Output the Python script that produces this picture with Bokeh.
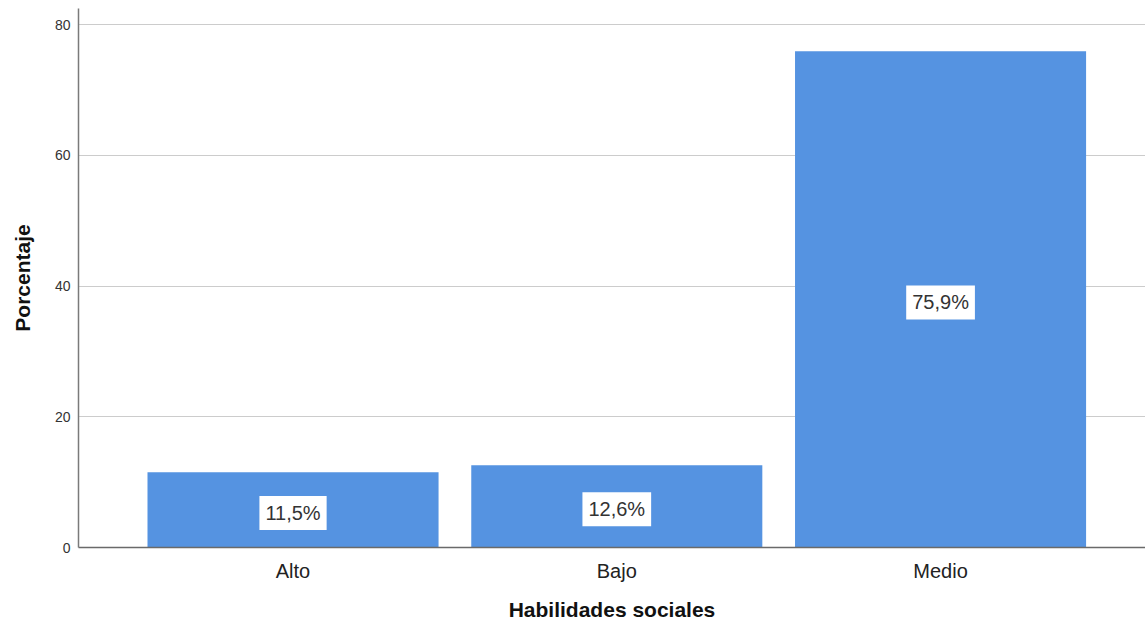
from bokeh.plotting import figure
from bokeh.models import ColumnDataSource, Range1d, FixedTicker
from bokeh.core.properties import value
from bokeh.embed import file_html
from bokeh.resources import INLINE

categories = ["Alto", "Bajo", "Medio"]
percentages = [11.5, 12.6, 75.9]
y_ticks = [0, 20, 40, 60, 80]
x_title = "Habilidades sociales"
y_title = "Porcentaje"

positions = list(range(len(categories)))
labels = [f"{v:.1f}".replace(".", ",") + "%" for v in percentages]
mids = [v / 2 for v in percentages]

src = ColumnDataSource(dict(x=positions, top=percentages, mid=mids, label=labels, cat=categories))

FONT = "Liberation Sans"
BAR = "#5593e1"

p = figure(width=1145, height=623, output_backend="svg", toolbar_location=None,
           x_range=Range1d(-0.6626, 2.633), y_range=Range1d(0, 82.45),
           min_border_left=78, min_border_right=0, min_border_top=8, min_border_bottom=76)
p.outline_line_color = None
p.background_fill_color = "white"
p.border_fill_color = "white"

p.vbar(x="x", top="top", bottom=0, width=0.899, source=src, fill_color=BAR, line_color=None)
p.text(x="x", y="mid", text="label", source=src, text_align="center", text_baseline="middle",
       y_offset=3, text_font=value(FONT), text_font_size="20px", text_color="#333333",
       background_fill_color="white", padding=6)

# grid
p.xgrid.grid_line_color = None
p.ygrid.grid_line_color = "#cccccc"
p.ygrid.grid_line_width = 1
p.yaxis.ticker = FixedTicker(ticks=y_ticks)
p.ygrid.ticker = FixedTicker(ticks=y_ticks)

# x axis
p.xaxis.ticker = FixedTicker(ticks=positions)
p.xaxis.major_label_overrides = {i: c for i, c in zip(positions, categories)}
p.xaxis.axis_label = x_title
p.xaxis.axis_label_text_font = FONT
p.xaxis.axis_label_text_font_style = "bold"
p.xaxis.axis_label_text_font_size = "21px"
p.xaxis.axis_label_text_color = "#111111"
p.xaxis.axis_label_standoff = 13
p.xaxis.major_label_text_font = FONT
p.xaxis.major_label_text_font_size = "20px"
p.xaxis.major_label_text_color = "#222222"
p.xaxis.major_label_standoff = 12
p.xaxis.major_tick_line_color = None
p.xaxis.minor_tick_line_color = None
p.xaxis.major_tick_out = 0
p.xaxis.major_tick_in = 0
p.xaxis.axis_line_color = "#6a6a6a"
p.xaxis.axis_line_width = 1.5

# y axis
p.yaxis.axis_label = y_title
p.yaxis.axis_label_text_font = FONT
p.yaxis.axis_label_text_font_style = "bold"
p.yaxis.axis_label_text_font_size = "21px"
p.yaxis.axis_label_text_color = "#111111"
p.yaxis.axis_label_standoff = 18
p.yaxis.major_label_text_font = FONT
p.yaxis.major_label_text_font_size = "14px"
p.yaxis.major_label_text_color = "#333333"
p.yaxis.major_label_standoff = 8
p.yaxis.major_tick_line_color = None
p.yaxis.minor_tick_line_color = None
p.yaxis.major_tick_out = 0
p.yaxis.major_tick_in = 0
p.yaxis.axis_line_color = "#7a7a7a"
p.yaxis.axis_line_width = 1.5

open("out.html", "w").write(file_html(p, INLINE))
